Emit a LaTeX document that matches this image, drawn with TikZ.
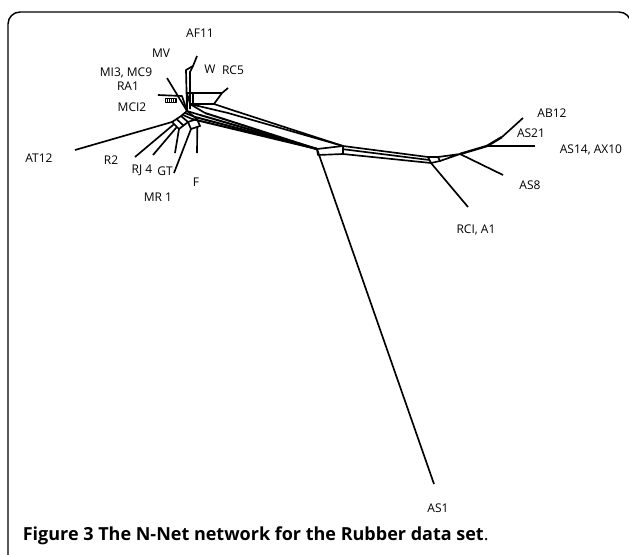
\documentclass[tikz,border=0pt]{standalone}
\usepackage{fontspec}
\setmainfont{Open Sans}
\usetikzlibrary{positioning,calc}
\tikzset{lbl/.style={inner sep=0pt, font=\fontsize{9}{10}\selectfont}}

\begin{document}
\begin{tikzpicture}[x=0.75pt, y=-0.75pt, line width=1.25pt, line join=round]
\useasboundingbox (0,0) rectangle (629,554);
\draw[line width=1.1pt, rounded corners=9] (8,558) -- (8,12) -- (631,12) -- (631,558);

% leaves
\foreach \n/\x/\y in {af11/197/56, mv/167/78, mi/158/95, at12/75/150, r2/135/157, rj4/153/155, gt/175/153,
  mr1/174/173, f/197/153, rc5/228/88, as1/434/484, rcia1/468/207, as8/503/175, as14/535/146, ab12/523/118}
  \coordinate (\n) at (\x,\y);

% splits
\foreach \n/\x/\y in {c/187/111, a1/186/70, a2/190/72, a3/193/66, k1/187/93, k2/222/93, k3/214/104, k4/190/104,
  s1/232/110, s2/228/113, s3/205/113, s4/200/115, s5/195/117, s6/192/119,
  b1/317/149, b2/343/146, b3/343/154, b4/318/155,
  d1/428/157, d2/438/157, d3/431/163, d4/440/161, j1/460/154, j2/487/146, j3/502/137,
  p1/172/122, p2/181/116, p3/188/122, p4/179/129, q1/197/119, q2/200/126, q3/191/129}
  \coordinate (\n) at (\x,\y);

\draw (c) -- (a1) -- (a3) -- (af11);
\draw (c) ++(3,-2) -- (a2) -- (a3);
\draw (mv) -- (c);
\draw (mi) -- (182,96) -- (c);
\draw[line width=0.7pt] (165,98) rectangle (176,102);
\foreach \i in {167,169,...,175} \draw[line width=0.7pt] (\i,98) -- (\i,102);

\draw (k1) -- (k2) -- (k3) -- (k4) -- cycle;
\draw (193,93) -- (193,104);
\draw (k2) -- (rc5);
\draw (k1) -- (c);
\draw (k3) -- (s1);
\draw (k4) -- (s2);
\draw (k4) -- (s3);
\draw (c) -- (s4);
\draw (c) ++(-2,2) -- (s5);
\draw (c) ++(-4,4) -- (s6);

\draw (s1) -- (b2);
\draw (s2) -- (b2);
\foreach \s in {s3,s4,s5,s6} \draw[line width=1.5pt] (\s) -- (b1);
\draw (b1) -- (b2) -- (b3) -- (b4) -- cycle;
\draw (b1) -- (as1);

\draw (b2) -- (d1);
\draw ($(b2)!0.4!(b3)$) -- ($(d1)!0.5!(d3)$);
\draw (b3) -- (d3);
\draw (d1) -- (d2) -- (d4) -- (d3) -- cycle;
\draw (d3) -- (rcia1);
\draw (d2) -- (j1) -- (d4);
\draw (j1) -- (as8);
\draw[line width=1.8pt] (j1) -- (j2);
\draw (j2) -- (as14);
\draw[line width=1.8pt] (j2) -- (j3);
\draw (j3) -- (ab12);

\draw (p1) -- (p2) -- (p3) -- (p4) -- cycle;
\draw ($(p1)!0.5!(p2)$) -- ($(p4)!0.5!(p3)$);
\draw (p3) -- (q1) -- (q2) -- (q3) -- cycle;
\draw (p2) -- (c) -- (q1);
\draw (at12) -- (p1);
\draw (r2) -- ($(p1)!0.3!(p4)$);
\draw (rj4) -- ($(p1)!0.7!(p4)$);
\draw (gt) -- (p4);
\draw (mr1) -- (q3);
\draw (f) -- ($(q2)!0.3!(q3)$);

% labels
\foreach \n/\x/\y/\t in {af11/200/33/AF11, mv/161/53/MV, mi/126/73/{MI3, MC9}, ra/128/86/RA1, mci/132/107/MCI2,
  w/210/69/W, rc5/233/70/RC5, at12/39/158/AT12, r2/111/160/R2, rj4/142/170/RJ 4, gt/165/171/GT,
  mr1/158/197/MR 1, f/196/182/F, as1/438/508/AS1, rcia1/476/230/{RCI, A1}, as8/530/185/AS8,
  as14/591/150/{AS14, AX10}, as21/531/133/AS21, ab12/552/113/AB12}
  \node[lbl] (t-\n) at (\x,\y) {\t};

\node[anchor=base west, inner sep=0pt, font=\bfseries\fontsize{13.5}{16}\selectfont] (cap) at (22,540)
  {Figure 3 The N-Net network for the Rubber data set\mdseries.};
\end{tikzpicture}
\end{document}
